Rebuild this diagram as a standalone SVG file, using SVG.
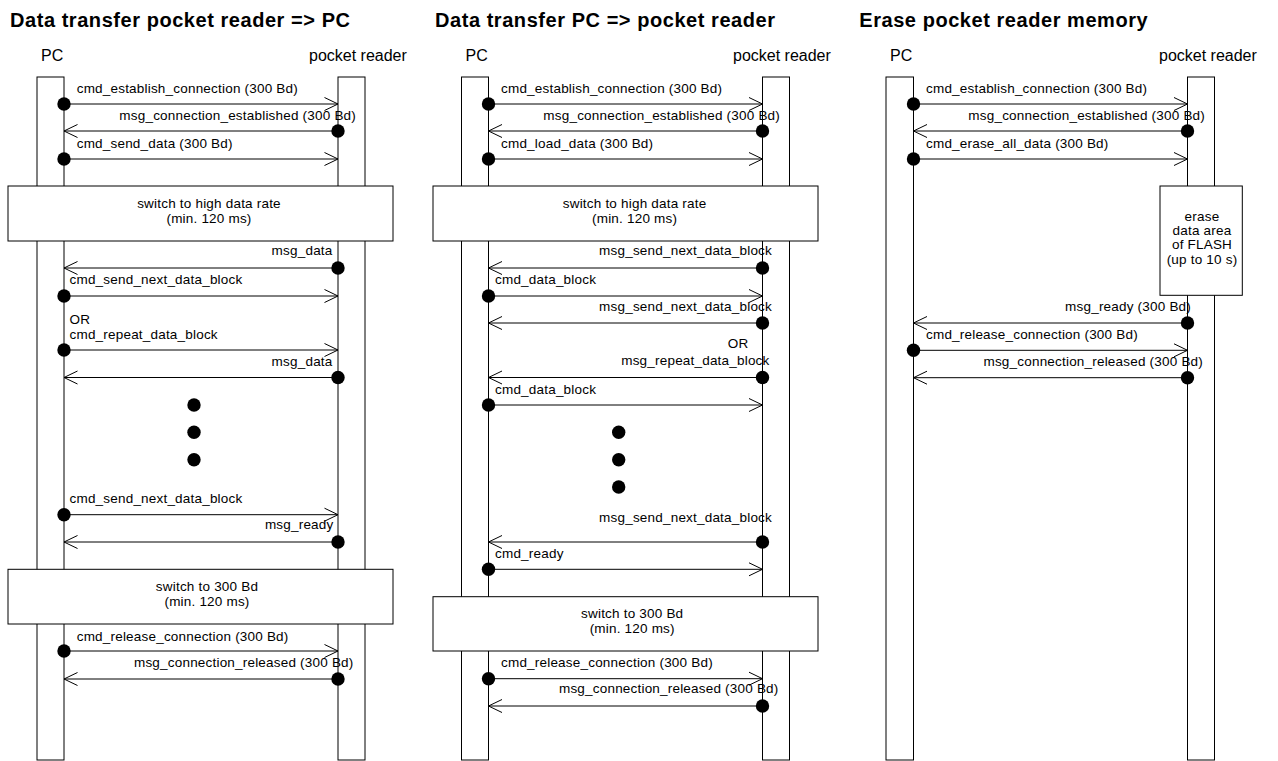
<svg xmlns="http://www.w3.org/2000/svg" width="1278" height="761" viewBox="0 0 1278 761">
<style>
text{font-family:"Liberation Sans",Arial,sans-serif;fill:#000}
.t{font-size:20px;font-weight:bold;letter-spacing:0.55px}
.h{font-size:16px}
.m{font-size:13.5px;letter-spacing:0.2px}
.e{text-anchor:end}
.c{text-anchor:middle}
.ll{fill:#fff;stroke:#000;stroke-width:1}
.bx{fill:#fff;stroke:#000;stroke-width:1}
.ar{stroke:#000;stroke-width:1;fill:none;marker-end:url(#ah)}
.d{fill:#000}
</style>
<defs>
<marker id="ah" markerUnits="userSpaceOnUse" markerWidth="16" markerHeight="16" refX="14" refY="7" orient="auto" overflow="visible">
<path d="M0.5,0.5 L14,7 L0.5,13.5" fill="none" stroke="#000" stroke-width="1"/>
</marker>
</defs>
<rect width="1278" height="761" fill="#fff"/>

<!-- Titles -->
<text class="t" x="10" y="27">Data transfer pocket reader =&gt; PC</text>
<text class="t" x="435" y="27">Data transfer PC =&gt; pocket reader</text>
<text class="t" x="859.3" y="27">Erase pocket reader memory</text>

<!-- Panel 1 lifelines -->
<g id="p1-pc"><rect class="ll" x="37" y="77" width="27" height="683"/><text class="h" x="41" y="61">PC</text></g>
<g id="p1-reader"><rect class="ll" x="338" y="77" width="27" height="683"/><text class="h" x="309" y="61">pocket reader</text></g>
<!-- Panel 2 lifelines -->
<g id="p2-pc"><rect class="ll" x="461.5" y="77" width="27" height="683"/><text class="h" x="465.5" y="61">PC</text></g>
<g id="p2-reader"><rect class="ll" x="762.5" y="77" width="27" height="683"/><text class="h" x="733" y="61">pocket reader</text></g>
<!-- Panel 3 lifelines -->
<g id="p3-pc"><rect class="ll" x="886" y="77" width="27.5" height="683"/><text class="h" x="890" y="61">PC</text></g>
<g id="p3-reader"><rect class="ll" x="1187.5" y="77" width="27" height="683"/><text class="h" x="1159" y="61">pocket reader</text></g>

<!-- Boxes -->
<g id="p1-box-high"><rect class="bx" x="8" y="186" width="385" height="55"/><text class="m c" x="209" y="207.5">switch to high data rate</text><text class="m c" x="209" y="222.5">(min. 120 ms)</text></g>
<g id="p1-box-300"><rect class="bx" x="8" y="569.3" width="385" height="54.7"/><text class="m c" x="207" y="591">switch to 300 Bd</text><text class="m c" x="207" y="606">(min. 120 ms)</text></g>
<g id="p2-box-high"><rect class="bx" x="433" y="186" width="385" height="55"/><text class="m c" x="634.6" y="207.5">switch to high data rate</text><text class="m c" x="634.6" y="222.5">(min. 120 ms)</text></g>
<g id="p2-box-300"><rect class="bx" x="433" y="596.7" width="385" height="54.3"/><text class="m c" x="632.2" y="618.4">switch to 300 Bd</text><text class="m c" x="632.2" y="633.4">(min. 120 ms)</text></g>
<g id="p3-box-erase"><rect class="bx" x="1160" y="186" width="82.3" height="109.3"/><text class="m c" x="1202" y="220.7">erase</text><text class="m c" x="1202" y="235">data area</text><text class="m c" x="1202" y="249.3">of FLASH</text><text class="m c" x="1202" y="263.7">(up to 10 s)</text></g>

<!-- Connectors -->
<g id="connectors">
<!-- Panel 1 -->
<line class="ar" x1="64" y1="104" x2="338" y2="104"/><circle class="d" cx="64" cy="104" r="6.7"/>
<line class="ar" x1="338" y1="131" x2="64" y2="131"/><circle class="d" cx="338" cy="131" r="6.7"/>
<line class="ar" x1="64" y1="159" x2="338" y2="159"/><circle class="d" cx="64" cy="159" r="6.7"/>
<line class="ar" x1="338" y1="268" x2="64" y2="268"/><circle class="d" cx="338" cy="268" r="6.7"/>
<line class="ar" x1="64" y1="296" x2="338" y2="296"/><circle class="d" cx="64" cy="296" r="6.7"/>
<line class="ar" x1="64" y1="350" x2="338" y2="350"/><circle class="d" cx="64" cy="350" r="6.7"/>
<line class="ar" x1="338" y1="377.5" x2="64" y2="377.5"/><circle class="d" cx="338" cy="377.5" r="6.7"/>
<circle class="d" cx="194" cy="405" r="6.7"/><circle class="d" cx="194" cy="432.3" r="6.7"/><circle class="d" cx="194" cy="459.7" r="6.7"/>
<line class="ar" x1="64" y1="514.7" x2="338" y2="514.7"/><circle class="d" cx="64" cy="514.7" r="6.7"/>
<line class="ar" x1="338" y1="542" x2="64" y2="542"/><circle class="d" cx="338" cy="542" r="6.7"/>
<line class="ar" x1="64" y1="651" x2="338" y2="651"/><circle class="d" cx="64" cy="651" r="6.7"/>
<line class="ar" x1="338" y1="679" x2="64" y2="679"/><circle class="d" cx="338" cy="679" r="6.7"/>
<!-- Panel 2 -->
<line class="ar" x1="488.5" y1="104" x2="762.5" y2="104"/><circle class="d" cx="488.5" cy="104" r="6.7"/>
<line class="ar" x1="762.5" y1="131" x2="488.5" y2="131"/><circle class="d" cx="762.5" cy="131" r="6.7"/>
<line class="ar" x1="488.5" y1="159" x2="762.5" y2="159"/><circle class="d" cx="488.5" cy="159" r="6.7"/>
<line class="ar" x1="762.5" y1="268" x2="488.5" y2="268"/><circle class="d" cx="762.5" cy="268" r="6.7"/>
<line class="ar" x1="488.5" y1="296" x2="762.5" y2="296"/><circle class="d" cx="488.5" cy="296" r="6.7"/>
<line class="ar" x1="762.5" y1="323" x2="488.5" y2="323"/><circle class="d" cx="762.5" cy="323" r="6.7"/>
<line class="ar" x1="762.5" y1="377.5" x2="488.5" y2="377.5"/><circle class="d" cx="762.5" cy="377.5" r="6.7"/>
<line class="ar" x1="488.5" y1="405" x2="762.5" y2="405"/><circle class="d" cx="488.5" cy="405" r="6.7"/>
<circle class="d" cx="618.7" cy="432.3" r="6.7"/><circle class="d" cx="618.7" cy="459.7" r="6.7"/><circle class="d" cx="618.7" cy="487" r="6.7"/>
<line class="ar" x1="762.5" y1="542" x2="488.5" y2="542"/><circle class="d" cx="762.5" cy="542" r="6.7"/>
<line class="ar" x1="488.5" y1="569.3" x2="762.5" y2="569.3"/><circle class="d" cx="488.5" cy="569.3" r="6.7"/>
<line class="ar" x1="488.5" y1="678.7" x2="762.5" y2="678.7"/><circle class="d" cx="488.5" cy="678.7" r="6.7"/>
<line class="ar" x1="762.5" y1="706" x2="488.5" y2="706"/><circle class="d" cx="762.5" cy="706" r="6.7"/>
<!-- Panel 3 -->
<line class="ar" x1="913.5" y1="104" x2="1187.5" y2="104"/><circle class="d" cx="913.5" cy="104" r="6.7"/>
<line class="ar" x1="1187.5" y1="131" x2="913.5" y2="131"/><circle class="d" cx="1187.5" cy="131" r="6.7"/>
<line class="ar" x1="913.5" y1="159" x2="1187.5" y2="159"/><circle class="d" cx="913.5" cy="159" r="6.7"/>
<line class="ar" x1="1187.5" y1="323" x2="913.5" y2="323"/><circle class="d" cx="1187.5" cy="323" r="6.7"/>
<line class="ar" x1="913.5" y1="350.3" x2="1187.5" y2="350.3"/><circle class="d" cx="913.5" cy="350.3" r="6.7"/>
<line class="ar" x1="1187.5" y1="377.7" x2="913.5" y2="377.7"/><circle class="d" cx="1187.5" cy="377.7" r="6.7"/>
</g>

<!-- Labels -->
<g id="labels">
<text class="m" x="76.7" y="93">cmd_establish_connection (300 Bd)</text>
<text class="m e" x="356" y="120">msg_connection_established (300 Bd)</text>
<text class="m" x="76.7" y="148">cmd_send_data (300 Bd)</text>
<text class="m e" x="332.5" y="255">msg_data</text>
<text class="m" x="69.5" y="284">cmd_send_next_data_block</text>
<text class="m" x="69.5" y="324">OR</text>
<text class="m" x="69.5" y="339">cmd_repeat_data_block</text>
<text class="m e" x="332.5" y="366">msg_data</text>
<text class="m" x="69.5" y="503.3">cmd_send_next_data_block</text>
<text class="m e" x="333.5" y="529">msg_ready</text>
<text class="m" x="76.7" y="640.7">cmd_release_connection (300 Bd)</text>
<text class="m e" x="353.5" y="666.7">msg_connection_released (300 Bd)</text>

<text class="m" x="501" y="93">cmd_establish_connection (300 Bd)</text>
<text class="m e" x="780" y="120">msg_connection_established (300 Bd)</text>
<text class="m" x="501" y="148">cmd_load_data (300 Bd)</text>
<text class="m e" x="772" y="255">msg_send_next_data_block</text>
<text class="m" x="495" y="284">cmd_data_block</text>
<text class="m e" x="772" y="311">msg_send_next_data_block</text>
<text class="m e" x="748.5" y="347.7">OR</text>
<text class="m e" x="769.5" y="365">msg_repeat_data_block</text>
<text class="m" x="495" y="394">cmd_data_block</text>
<text class="m e" x="772" y="522.3">msg_send_next_data_block</text>
<text class="m" x="495" y="558.3">cmd_ready</text>
<text class="m" x="501" y="667.3">cmd_release_connection (300 Bd)</text>
<text class="m e" x="778.5" y="693.3">msg_connection_released (300 Bd)</text>

<text class="m" x="926" y="93">cmd_establish_connection (300 Bd)</text>
<text class="m e" x="1205" y="120">msg_connection_established (300 Bd)</text>
<text class="m" x="926" y="148">cmd_erase_all_data (300 Bd)</text>
<text class="m e" x="1191" y="310.7">msg_ready (300 Bd)</text>
<text class="m" x="926" y="339.3">cmd_release_connection (300 Bd)</text>
<text class="m e" x="1203" y="365.7">msg_connection_released (300 Bd)</text>
</g>
</svg>
